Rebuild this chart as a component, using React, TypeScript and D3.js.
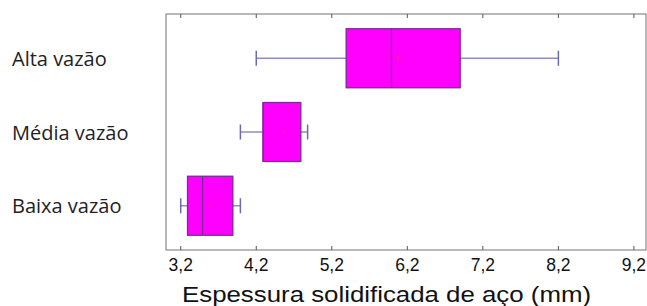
import React, { useRef, useEffect } from "react";
import * as d3 from "d3";

const categories = ["Alta vazão", "Média vazão", "Baixa vazão"];
const minValues = [4.2, 3.99, 3.2];
const q1Values = [5.39, 4.29, 3.29];
const medianValues = [5.99, 4.29, 3.49];
const q3Values = [6.9, 4.79, 3.89];
const maxValues = [8.2, 4.88, 3.99];
const meanValues = [6.08, 4.56, 3.58];
const tickValues = [3.2, 4.2, 5.2, 6.2, 7.2, 8.2, 9.2];
const axisTitle = "Espessura solidificada de aço (mm)";

const App = () => {
	const svgRef = useRef<SVGSVGElement>(null);
	const width = 647;
	const height = 306;
	const left = 166;
	const right = 646;
	const top = 14;
	const bottom = 250;

	useEffect(() => {
		const svg = d3.select(svgRef.current);
		svg.selectChildren().remove();

		const x = d3.scaleLinear().domain([3.005, 9.36]).range([left, right]);
		const y = d3.scaleBand<string>()
			.domain(categories)
			.range([top, bottom])
			.paddingInner(0.2)
			.paddingOuter(0.2);

		// frame
		svg.append("rect")
			.attr("x", left).attr("y", top)
			.attr("width", right - left).attr("height", bottom - top)
			.attr("fill", "none").attr("stroke", "#8a8a8a").attr("stroke-width", 1.2);

		// ticks top and bottom (pointing inward)
		const ticks = svg.append("g");
		tickValues.forEach(t => {
			ticks.append("line")
				.attr("x1", x(t)).attr("x2", x(t))
				.attr("y1", top).attr("y2", top + 4)
				.attr("stroke", "#555").attr("stroke-width", 1);
			ticks.append("line")
				.attr("x1", x(t)).attr("x2", x(t))
				.attr("y1", bottom).attr("y2", bottom - 4)
				.attr("stroke", "#555").attr("stroke-width", 1);
			ticks.append("text")
				.attr("x", x(t)).attr("y", 271)
				.attr("text-anchor", "middle")
				.style("font-family", "Liberation Sans, Arial, sans-serif")
				.style("font-size", "17.5px")
				.attr("fill", "#111")
				.text(String(t).replace(".", ","));
		});

		// axis title
		svg.append("text")
			.attr("x", 182).attr("y", 302)
			.attr("textLength", 409)
			.attr("lengthAdjust", "spacingAndGlyphs")
			.style("font-family", "Liberation Sans, Arial, sans-serif")
			.style("font-size", "21.5px")
			.attr("fill", "#111")
			.text(axisTitle);

		// category labels
		categories.forEach(c => {
			svg.append("text")
				.attr("x", 12)
				.attr("y", (y(c) as number) + y.bandwidth() / 2 + 7.5)
				.style("font-family", "Open Sans, sans-serif")
				.style("font-size", "20px")
				.attr("fill", "#222")
				.text(c);
		});

		// boxes
		const g = svg.append("g");
		categories.forEach((c, i) => {
			const y0 = y(c) as number;
			const bw = y.bandwidth();
			const cy = y0 + bw / 2;
			const cap = 15;

			g.append("line")
				.attr("x1", x(minValues[i])).attr("x2", x(q1Values[i]))
				.attr("y1", cy).attr("y2", cy)
				.attr("stroke", "#8d8dc4").attr("stroke-width", 1.5);
			g.append("line")
				.attr("x1", x(q3Values[i])).attr("x2", x(maxValues[i]))
				.attr("y1", cy).attr("y2", cy)
				.attr("stroke", "#8d8dc4").attr("stroke-width", 1.5);
			[minValues[i], maxValues[i]].forEach(v => {
				g.append("line")
					.attr("x1", x(v)).attr("x2", x(v))
					.attr("y1", cy - cap / 2).attr("y2", cy + cap / 2)
					.attr("stroke", "#6c6ca8").attr("stroke-width", 1.5);
			});

			g.append("rect")
				.attr("x", x(q1Values[i])).attr("y", y0)
				.attr("width", x(q3Values[i]) - x(q1Values[i]))
				.attr("height", bw)
				.attr("fill", "#ff00ff")
				.attr("stroke", "#7a2a9a").attr("stroke-width", 1.3);

			g.append("line")
				.attr("x1", x(medianValues[i])).attr("x2", x(medianValues[i]))
				.attr("y1", y0).attr("y2", y0 + bw)
				.attr("stroke", "#7a2a9a").attr("stroke-width", 1.3);

			const mx = x(meanValues[i]);
			g.append("path")
				.attr("d", `M${mx - 2.5},${cy}H${mx + 2.5}M${mx},${cy - 2.5}V${cy + 2.5}`)
				.attr("stroke", "#e8307a").attr("stroke-width", 1)
				.attr("opacity", 0.7);
		});
	});

	return (
		<svg ref={svgRef} width={width} height={height}
			style={{ position: "absolute", left: 0, top: 0, background: "#fff" }}>
		</svg>
	);
};

export default App;
